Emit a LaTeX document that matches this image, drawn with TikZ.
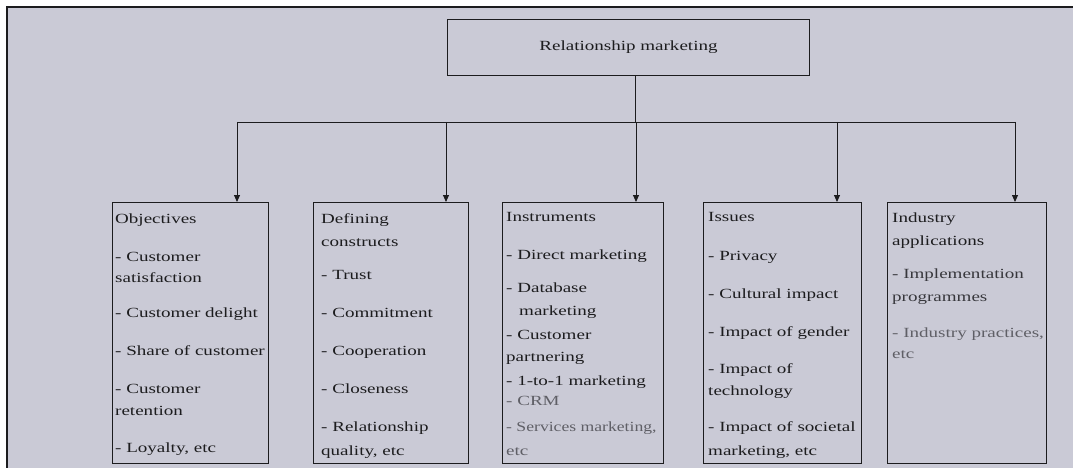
\documentclass[tikz,border=0pt]{standalone}
\usepackage{fontspec}
\setmainfont[FakeStretch=1.36]{Liberation Serif}
\usetikzlibrary{arrows.meta}
\definecolor{bg}{RGB}{202,202,214}
\definecolor{ink}{RGB}{28,28,30}
\definecolor{inkmid}{RGB}{55,55,60}
\definecolor{inklt}{RGB}{95,95,102}
\newcommand{\narrowtxt}[1]{{\addfontfeatures{FakeStretch=1.26}#1}}
\begin{document}
\begin{tikzpicture}[x=1pt,y=-1pt,
  box/.style={draw=ink,line width=0.9pt,rectangle,inner sep=0pt,anchor=north west,minimum height=261pt},
  txt/.style={anchor=base west,inner sep=0pt,font=\fontsize{14}{16}\selectfont},
  conn/.style={draw=ink,line width=0.9pt},
  arr/.style={conn,-{Triangle[length=7pt,width=6pt]}}]
\useasboundingbox (0,0) rectangle (1073,468);
\fill[white] (0,0) rectangle (1073,468);
\filldraw[fill=bg,draw=ink,line width=1.2pt] (7,7) rectangle (1090,490);

% top box
\node[box,minimum width=362pt,minimum height=56pt,font=\fontsize{14}{16}\selectfont,text=ink] (top) at (447,19) {Relationship marketing};

% category boxes
\node[box,minimum width=156pt] (obj) at (112,202) {};
\node[box,minimum width=155pt] (def) at (313,202) {};
\node[box,minimum width=161pt] (ins) at (502,202) {};
\node[box,minimum width=158pt] (iss) at (703,202) {};
\node[box,minimum width=159pt] (ind) at (887,202) {};

% connectors
\coordinate (jt) at (635,122);
\coordinate (j1) at (237,122);
\coordinate (j2) at (446,122);
\coordinate (j3) at (636,122);
\coordinate (j4) at (837,122);
\coordinate (j5) at (1015,122);
\draw[conn] (jt |- top.south) -- (jt);
\draw[conn] (j1) -- (j5);
\draw[arr] (j1) -- (j1 |- obj.north);
\draw[arr] (j2) -- (j2 |- def.north);
\draw[arr] (j3) -- (j3 |- ins.north);
\draw[arr] (j4) -- (j4 |- iss.north);
\draw[arr] (j5) -- (j5 |- ind.north);

% texts
\foreach \y/\x/\c/\t [count=\i] in {
  223/115/ink/Objectives,
  261/115/ink/- Customer,
  282/115/ink/satisfaction,
  317/115/ink/- Customer delight,
  355/115/ink/- Share of customer,
  393/115/ink/- Customer,
  415/115/ink/retention,
  452/115/ink/{- Loyalty, etc}}
  \node[txt,text=\c,name=objt\i] at (\x,\y) {\t};

\foreach \y/\x/\c/\t [count=\i] in {
  223/321/ink/Defining,
  246/321/ink/constructs,
  279/321/ink/- Trust,
  317/321/ink/- Commitment,
  355/321/ink/- Cooperation,
  393/321/ink/- Closeness,
  431/321/ink/- Relationship,
  455/321/ink/{quality, etc}}
  \node[txt,text=\c,name=deft\i] at (\x,\y) {\t};

\foreach \y/\x/\c/\t [count=\i] in {
  221/506/ink/Instruments,
  259/506/ink/- Direct marketing,
  292/506/ink/- Database,
  315/519/ink/marketing,
  339/506/ink/- Customer,
  361/506/ink/partnering,
  385/506/ink/- 1-to-1 marketing,
  405/506/inklt/- CRM,
  431/506/inklt/{\narrowtxt{- Services marketing,}},
  455/506/inklt/etc}
  \node[txt,text=\c,name=inst\i] at (\x,\y) {\t};

\foreach \y/\x/\c/\t [count=\i] in {
  221/708/ink/Issues,
  260/708/ink/- Privacy,
  298/708/ink/- Cultural impact,
  336/708/ink/- Impact of gender,
  373/708/ink/- Impact of,
  395/708/ink/technology,
  431/708/ink/- Impact of societal,
  455/708/ink/{marketing, etc}}
  \node[txt,text=\c,name=isst\i] at (\x,\y) {\t};

\foreach \y/\x/\c/\t [count=\i] in {
  222/892/ink/Industry,
  245/892/ink/applications,
  278/892/inkmid/- Implementation,
  301/892/inkmid/programmes,
  337/892/inklt/{- Industry practices,},
  358/892/inklt/etc}
  \node[txt,text=\c,name=indt\i] at (\x,\y) {\t};
\end{tikzpicture}
\end{document}
